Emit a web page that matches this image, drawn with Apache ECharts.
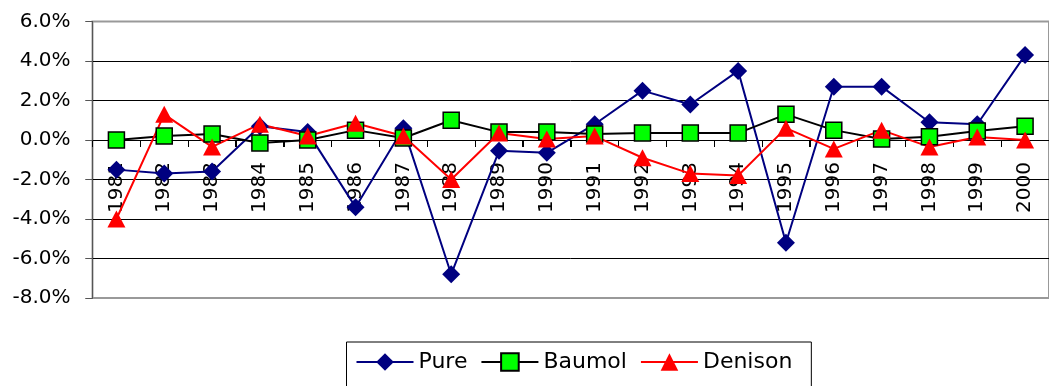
<!DOCTYPE html>
<html>
<head>
<meta charset="utf-8">
<script src="https://cdn.jsdelivr.net/npm/echarts@6/dist/echarts.min.js"></script>
<style>
  html, body { margin: 0; padding: 0; background: #fff; }
  #chart { width: 1049px; height: 386px; }
</style>
</head>
<body>
<div id="chart"></div>
<script>
// Annual growth rates (%) by year for three productivity measures
const years = ['1981','1982','1983','1984','1985','1986','1987','1988','1989','1990',
               '1991','1992','1993','1994','1995','1996','1997','1998','1999','2000'];
const pure    = [-1.5, -1.7, -1.6, 0.7, 0.4, -3.4, 0.6, -6.8, -0.55, -0.65,
                  0.8, 2.5, 1.8, 3.5, -5.2, 2.7, 2.7, 0.9, 0.8, 4.3];
const baumol  = [0.0, 0.2, 0.3, -0.15, 0.0, 0.5, 0.1, 1.0, 0.4, 0.4,
                 0.3, 0.35, 0.35, 0.35, 1.3, 0.5, 0.05, 0.17, 0.45, 0.7];
const denison = [-4.0, 1.3, -0.35, 0.8, 0.2, 0.85, 0.2, -2.0, 0.35, 0.05,
                 0.2, -0.9, -1.7, -1.8, 0.6, -0.45, 0.5, -0.35, 0.15, 0.0];
const yTicks = [-8, -6, -4, -2, 0, 2, 4, 6];
const yMin = -8, yMax = 6, yStep = 2;

const font = 'DejaVu Sans';
const gridTop = 21.5, gridHeight = 276.5;
const tickLen = 7;
// shift the category axis up from the plot bottom to the 0% line
const zeroShift = -gridHeight * (0 - yMin) / (yMax - yMin);

const crisp = v => Math.round(v - 0.5) + 0.5;

// short tick below the 0% line at the right edge of each year slot
function yearTick(params, api) {
  const c = api.coord([api.value(0), 0]);
  const w = api.size([1, 0])[0];
  const x = crisp(c[0] + w / 2);
  return {
    type: 'line',
    shape: { x1: x, y1: c[1], x2: x, y2: c[1] + tickLen },
    style: { stroke: '#000', lineWidth: 1 }
  };
}

// short tick left of the value axis at each gridline
function valueTick(params, api) {
  const c = api.coord([years[0], api.value(1)]);
  const w = api.size([1, 0])[0];
  const x = c[0] - w / 2;
  const y = crisp(c[1]);
  return {
    type: 'line',
    shape: { x1: x - tickLen, y1: y, x2: x, y2: y },
    style: { stroke: '#555', lineWidth: 1 }
  };
}

const chart = echarts.init(document.getElementById('chart'), null, { renderer: 'canvas' });

chart.setOption({
  animation: false,
  backgroundColor: '#ffffff',
  grid: {
    left: 92.5, top: gridTop, width: 970, height: gridHeight,
    show: true, borderColor: '#999999', borderWidth: 2, backgroundColor: 'transparent'
  },
  legend: {
    left: 346.5, top: 342,
    padding: [9, 19, 40, 9],
    borderColor: '#000', borderWidth: 1,
    itemWidth: 57, itemHeight: 22, itemGap: 13,
    textStyle: { fontFamily: font, fontSize: 22, color: '#000' },
    data: ['Pure', 'Baumol', 'Denison']
  },
  xAxis: {
    type: 'category',
    data: years,
    boundaryGap: true,
    position: 'bottom',
    offset: zeroShift,
    axisLine: { onZero: false, lineStyle: { color: '#000', width: 1 } },
    axisTick: { show: true, interval: 0, length: tickLen, lineStyle: { color: '#000', width: 1 } },
    axisLabel: {
      interval: 0, rotate: 90, margin: 22,
      fontFamily: font, fontSize: 20, color: '#000'
    },
    splitLine: { show: false }
  },
  yAxis: {
    type: 'value',
    min: yMin, max: yMax, interval: yStep,
    axisLine: { show: true, lineStyle: { color: '#555', width: 1 } },
    axisTick: { show: true, length: tickLen, lineStyle: { color: '#555' } },
    axisLabel: {
      margin: 22, fontFamily: font, fontSize: 20, color: '#000',
      formatter: v => v.toFixed(1) + '%'
    },
    splitLine: {
      show: true,
      lineStyle: {
        color: ['transparent', '#000', '#000', '#000', '#000', '#000', '#000', 'transparent'],
        width: 1
      }
    }
  },
  series: [
    {
      type: 'custom', name: 'yearTicks', silent: true, clip: false, z: 1,
      data: years.map(y => [y, 0]),
      renderItem: yearTick
    },
    {
      type: 'custom', name: 'valueTicks', silent: true, clip: false, z: 1,
      data: yTicks.map(v => [years[0], v]),
      renderItem: valueTick
    },
    {
      name: 'Pure', type: 'line', data: pure,
      symbol: 'diamond', symbolSize: [18, 18],
      lineStyle: { color: '#000080', width: 2 },
      itemStyle: { color: '#000080' }
    },
    {
      name: 'Baumol', type: 'line', data: baumol,
      symbol: 'rect', symbolSize: 16,
      lineStyle: { color: '#000000', width: 2 },
      itemStyle: { color: '#00ff00', borderColor: '#000', borderWidth: 1.5 }
    },
    {
      name: 'Denison', type: 'line', data: denison,
      symbol: 'triangle', symbolSize: [18, 17],
      lineStyle: { color: '#ff0000', width: 2 },
      itemStyle: { color: '#ff0000' }
    }
  ]
});
</script>
</body>
</html>
